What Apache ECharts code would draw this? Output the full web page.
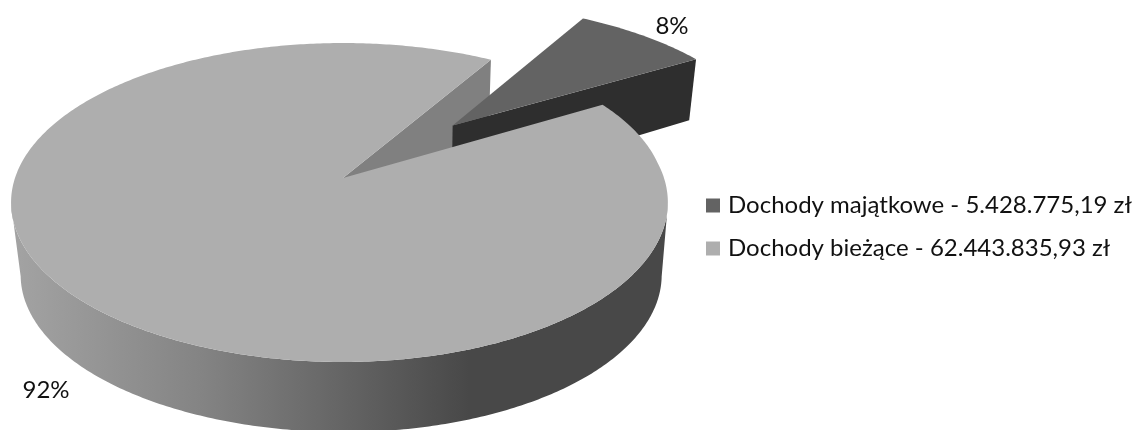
<!DOCTYPE html>
<html><head><meta charset="utf-8">
<style>html,body{margin:0;padding:0;background:#fff}#c{width:1138px;height:430px}</style>
<script src="https://cdn.jsdelivr.net/npm/echarts@6/dist/echarts.min.js"></script>
</head><body><div id="c"></div>
<script>
var categories = ['Dochody majątkowe - 5.428.775,19 zł', 'Dochody bieżące - 62.443.835,93 zł'];
var values = [5428775.19, 62443835.93];
var topColors = ['#636363', '#aeaeae'];
var wallColors = ['#2e2e2e', '#808080'];
var labelAnchors = [[672, 26], [46, 390]];
var startAngle = 30.7, explodeDistance = [0.505, 0];
var total = values[0] + values[1];

var CX = 343, CY = 178, RY = 155.7, P = 0.1536;
function rxAt(X, Y) {
  if (X < 0) return 328;
  if (Y <= -0.8) return 328;
  if (Y <= -0.5) return 324.6 + 3.4 * (-0.5 - Y) / 0.3;
  if (Y <= -0.1) return 324.6 - 3.6 * (Y + 0.5) / 0.4;
  return 321;
}
function proj(X, Y) {
  var w = 1 - P * Y;
  return [CX + rxAt(X, Y) * X / w, CY + RY * Y / w];
}
function lowerMain(p) {
  return [341.4 + 0.976 * (p[0] - 339.7), 275 + 0.985 * (p[1] - 202.5)];
}
function lowerSlice(p) {
  return [341.4 + 0.976 * (p[0] - 339.7), 119 + 1.075 * (p[1] - 58)];
}
var chart = echarts.init(document.getElementById('c'), null, {renderer: 'canvas'});
var sideFill = new echarts.graphic.LinearGradient(20, 0, 662, 0, [
  {offset: 0, color: '#a2a2a2'},
  {offset: 0.28, color: '#848484'},
  {offset: 0.5, color: '#656565'},
  {offset: 0.7, color: '#484848'},
  {offset: 1, color: '#484848'}
], true);

function sliceRange(i) {
  var a = startAngle;
  for (var k = 0; k < i; k++) a += values[k] / total * 360;
  return [a, a + values[i] / total * 360];
}
function geom(i) {
  var r = sliceRange(i), mid = (r[0] + r[1]) / 2 * Math.PI / 180;
  var d = explodeDistance[i];
  var ox = d * Math.sin(mid), oy = -d * Math.cos(mid);
  var arc = [], deg = [];
  var n = Math.max(12, Math.round((r[1] - r[0]) * 1.5));
  for (var j = 0; j <= n; j++) {
    var a = r[0] + (r[1] - r[0]) * j / n, t = a * Math.PI / 180;
    arc.push(proj(ox + Math.sin(t), oy - Math.cos(t)));
    deg.push(a);
  }
  return {apex: proj(ox, oy), arc: arc, deg: deg};
}
function poly(points, fill, z2) {
  return {type: 'polygon', z2: z2, shape: {points: points}, style: {fill: fill, stroke: null}, silent: true};
}
function label(i) {
  return {type: 'text', z2: 6, silent: true, x: labelAnchors[i][0], y: labelAnchors[i][1],
    style: {text: Math.round(values[i] / total * 100) + '%', fill: '#111',
      font: '24px Lato', align: 'center', verticalAlign: 'middle'}};
}
function renderBack() {
  var m = geom(1), g = geom(0);
  var mEnd = m.arc[m.arc.length - 1], gEnd = g.arc[g.arc.length - 1];
  return {type: 'group', children: [
    poly([m.apex, mEnd, lowerSlice(mEnd), lowerSlice(m.apex)], wallColors[1], 1),
    poly([g.apex, gEnd, lowerSlice(gEnd), lowerSlice(g.apex)], wallColors[0], 2),
    poly([g.apex].concat(g.arc), topColors[0], 3),
    label(0)
  ]};
}
function renderFront() {
  var m = geom(1), front = [];
  m.arc.forEach(function (p, k) {
    if (m.deg[k] >= 99 && m.deg[k] <= 261) front.push(p);
  });
  return {type: 'group', children: [
    poly(front.concat(front.map(lowerMain).reverse()), sideFill, 4),
    poly([m.apex].concat(m.arc), topColors[1], 5),
    label(1)
  ]};
}
chart.setOption({
  animation: false,
  backgroundColor: '#fff',
  legend: {
    orient: 'vertical', left: 701, top: 186, itemWidth: 14, itemHeight: 14, itemGap: 14,
    icon: 'rect', selectedMode: false,
    data: categories,
    textStyle: {fontFamily: 'Lato', fontSize: 24, color: '#111', lineHeight: 29, padding: [0, 0, 0, 3]}
  },
  series: [renderBack, renderFront].map(function (fn, i) {
    return {
      type: 'custom', name: categories[i], coordinateSystem: 'none', silent: true,
      z: i + 1,
      itemStyle: {color: topColors[i]},
      renderItem: fn, data: [[values[i]]]
    };
  })
});
</script></body></html>
